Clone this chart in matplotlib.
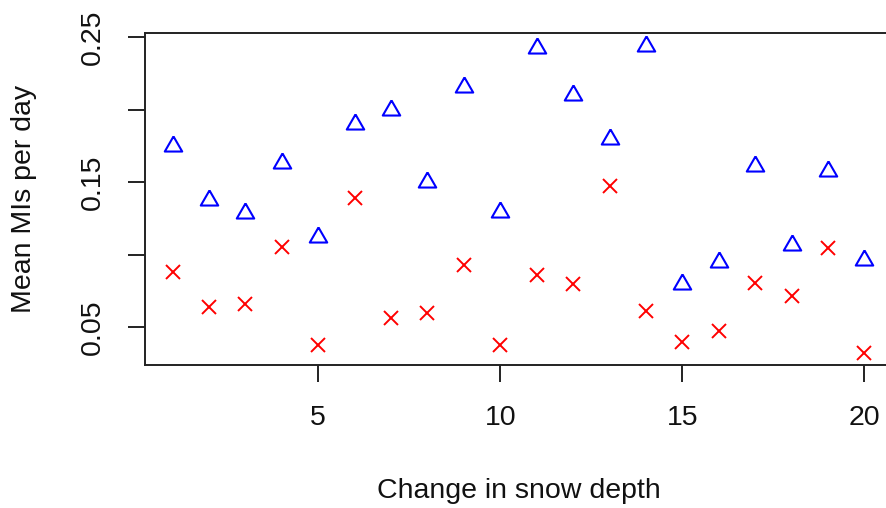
import matplotlib
matplotlib.use("Agg")
import matplotlib.pyplot as plt
import numpy as np

plt.rcParams['font.family'] = ['Liberation Sans', 'DejaVu Sans']

snow_change = list(range(1, 21))
mean_mis_a = [0.175, 0.138, 0.129, 0.163, 0.1125, 0.190, 0.200, 0.150, 0.216, 0.1295,
              0.2425, 0.210, 0.180, 0.2444, 0.0795, 0.095, 0.1615, 0.1065, 0.1575, 0.0964]
mean_mis_b = [0.088, 0.0638, 0.0657, 0.1056, 0.0378, 0.1389, 0.0562, 0.060, 0.0926, 0.0378,
              0.0857, 0.0797, 0.1474, 0.0611, 0.0399, 0.0472, 0.0807, 0.0714, 0.1049, 0.0323]
x_ticks = [5, 10, 15, 20]
y_ticks = [0.05, 0.10, 0.15, 0.20, 0.25]
y_ticklabels = ["0.05", "", "0.15", "", "0.25"]

W, H = 886, 508
fig = plt.figure(figsize=(W / 100, H / 100), dpi=100)
left_px, right_px, top_px, bottom_px = 145, 892, 33.3, 365
ax = fig.add_axes([left_px / W, (H - bottom_px) / H,
                   (right_px - left_px) / W, (bottom_px - top_px) / H])

# R-style equilateral triangle (point at centroid)
tri = [(0, 1.0), (0.866, -0.5), (-0.866, -0.5), (0, 1.0)]

ax.plot(snow_change, mean_mis_a, linestyle='none', marker=tri, markersize=14.5,
        markerfacecolor='none', markeredgecolor='#0000ff', markeredgewidth=1.5)
ax.plot(snow_change, mean_mis_b, linestyle='none', marker='x', markersize=10,
        color='#ff0000', markeredgewidth=1.4)

def ext(lo, hi):
    d = (hi - lo) * 0.04
    return lo - d, hi + d

ax.set_xlim(*ext(min(snow_change), max(snow_change)))
allv = mean_mis_a + mean_mis_b
ax.set_ylim(*ext(min(allv), max(allv)))

ax.set_xticks(x_ticks)
ax.set_xticklabels([str(t) for t in x_ticks])
ax.set_yticks(y_ticks)
ax.set_yticklabels(y_ticklabels, rotation=90, va='center')

for s in ax.spines.values():
    s.set_linewidth(1.4)
    s.set_color('#222222')

ax.tick_params(axis='both', direction='out', length=12.5, width=1.4, color='#222222',
               labelsize=20.5, labelcolor='#111111')
ax.tick_params(axis='x', pad=16.5)
ax.tick_params(axis='y', pad=16)

ax.set_xlabel("Change in snow depth", fontsize=20.5, color='#111111')
ax.set_ylabel("Mean MIs per day", fontsize=20.5, color='#111111')
ax.xaxis.label.set_va('baseline')
ax.xaxis.set_label_coords(0.5, (bottom_px - 498) / (bottom_px - top_px))
ax.yaxis.label.set_va('baseline')
ax.yaxis.set_label_coords((31 - left_px) / (right_px - left_px), 0.5)

fig.savefig("out.png", dpi=100)
